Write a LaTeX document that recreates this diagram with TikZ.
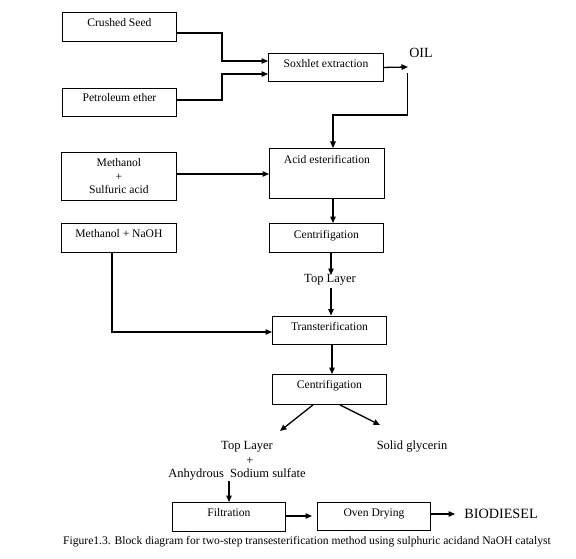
\documentclass[tikz,border=0pt]{standalone}
\usepackage{fontspec}
\setmainfont{Liberation Serif}
\usetikzlibrary{arrows.meta}
\tikzset{
  box/.style={draw, line width=0.9pt, inner sep=0pt, anchor=north west, font=\fontsize{11.6}{13}\selectfont},
  arr/.style={-{Triangle[length=6.5pt,width=5.5pt]}, line width=1.3pt},
  lbl/.style={inner sep=0pt, font=\fontsize{12.5}{14}\selectfont}
}
\begin{document}
\begin{tikzpicture}[x=1pt,y=-1pt]
\useasboundingbox (0,0) rectangle (576,559);
% boxes
\node[box, minimum width=114pt, text height=14.5pt, text depth=14.5pt] (cs) at (62,12) {Crushed Seed};
\node[box, minimum width=114pt, text height=13.5pt, text depth=14.5pt] (pe) at (62,88) {Petroleum ether};
\node[box, minimum width=115pt, text height=14.5pt, text depth=13.5pt] (sox) at (268,53) {Soxhlet extraction};
\node[box, minimum width=115pt, minimum height=48pt, align=center, font=\fontsize{11.6}{13.5}\selectfont] (ms) at (61,152) {Methanol\\+\\Sulfuric acid};
\node[box, minimum width=115pt, text height=15.5pt, text depth=34.5pt] (acid) at (269,148) {Acid esterification};
\node[box, minimum width=114pt, text height=15.5pt, text depth=13.5pt] (cen1) at (269,223) {Centrifigation};
\node[box, minimum width=115pt, text height=14.5pt, text depth=14.5pt] (naoh) at (61,223) {Methanol + NaOH};
\node[box, minimum width=114pt, text height=15pt, text depth=13.5pt] (trans) at (272,315.5) {Transterification};
\node[box, minimum width=114pt, text height=14.5pt, text depth=15.5pt] (cen2) at (272,374) {Centrifigation};
\node[box, minimum width=113pt, text height=14.5pt, text depth=14.5pt] (filt) at (172,502) {Filtration};
\node[box, minimum width=113pt, text height=14pt, text depth=14pt] (oven) at (317,502) {Oven Drying};
% labels
\node[inner sep=0pt, font=\fontsize{14}{16}\selectfont] (oil) at (421,53) {OIL};
\node[lbl] (tl1) at (330,280) {Top Layer};
\node[lbl] (tl2) at (247,447) {Top Layer};
\node[lbl] (sg) at (412,447) {Solid glycerin};
\node[lbl] (plus) at (250,461) {+};
\node[lbl] (ans) at (237,474) {Anhydrous\ \ Sodium sulfate};
\node[inner sep=0pt, font=\fontsize{14.2}{16}\selectfont] (bio) at (501,514) {BIODIESEL};
\node[inner sep=0pt, font=\fontsize{11.6}{13}\selectfont] (cap) at (307,542) {Figure1.3. Block diagram for two-step transesterification method using sulphuric acidand NaOH catalyst};
% coordinates
\coordinate (oiltip) at (408,67);
\coordinate (oilfoot) at (407.5,73);
\coordinate (g1) at (280,431);
\coordinate (g2) at (380,425);
% connectors
\draw[arr] (cs.east |- 0,33) -- (222,33) -- (222,61) -- (sox.west |- 0,61);
\draw[arr] (pe.east |- 0,100) -- (222,100) -- (222,74) -- (sox.west |- 0,74);
\draw[arr] (sox.east) -- (oiltip);
\draw[arr] (oilfoot) -- (407.5,115) -- (333,115) -- (acid.north -| 333,0);
\draw[arr] (ms.east |- 0,174) -- (acid.west |- 0,174);
\draw[arr] (acid.south -| 333,0) -- (cen1.north -| 333,0);
\draw[arr] (cen1.south -| 331,0) -- (331,275);
\draw[arr] (331,288) -- (trans.north -| 331,0);
\draw[arr] (naoh.south -| 112,0) -- (112,332) -- (trans.west |- 0,332);
\draw[arr] (trans.south -| 332,0) -- (cen2.north -| 332,0);
\draw[arr] (cen2.south -| 313,0) -- (g1);
\draw[arr] (cen2.south -| 340,0) -- (g2);
\draw[arr] (229,481) -- (filt.north -| 229,0);
\draw[arr] (filt.east |- 0,516) -- (312,516);
\draw[arr] (oven.east |- 0,514) -- (455,514);
\end{tikzpicture}
\end{document}
